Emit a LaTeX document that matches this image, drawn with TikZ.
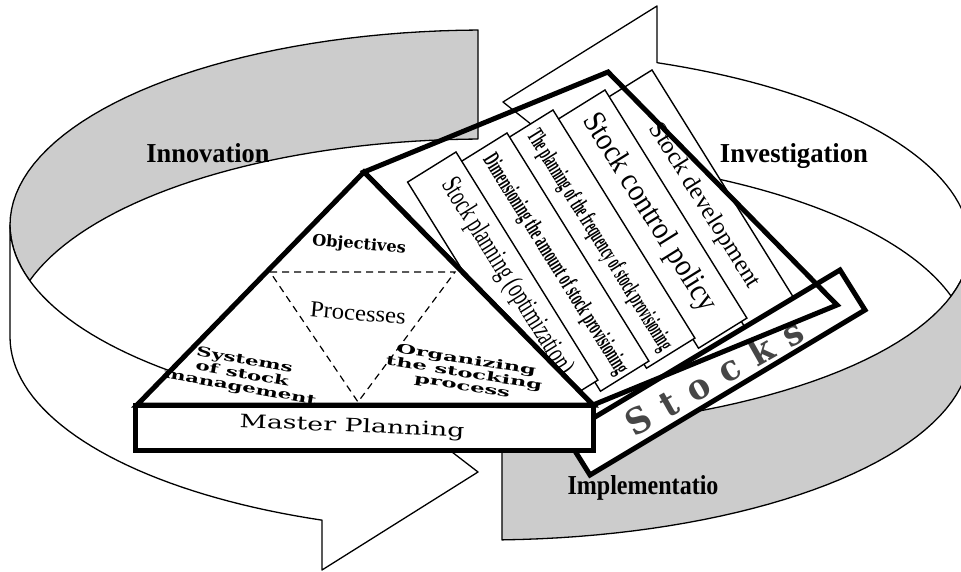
\documentclass[tikz,border=0pt]{standalone}
\usepackage{fontspec}
\setmainfont{Liberation Serif}
\newfontfamily\slab{DejaVu Serif}
\usetikzlibrary{calc}
\definecolor{ringgrey}{RGB}{204,204,204}
\definecolor{stockgrey}{RGB}{70,70,70}
\begin{document}
\begin{tikzpicture}[x=1pt,y=-1pt,
  ringline/.style={draw=black,line width=1.3pt,line join=round},
  cardbox/.style={draw=black,fill=white,line width=1.4pt,line join=miter},
  heavy/.style={draw=black,line width=5pt,line join=miter},
  ringlabel/.style={inner sep=0pt,anchor=base},
  cardtext/.style={inner sep=0pt,rotate=-58.1},
  tritext/.style={inner sep=0pt},
]
\useasboundingbox (0,0) rectangle (961,572);

% ---------- ring: left arrow (Innovation) ----------
\path[ringline,fill=ringgrey]
  plot[domain=180:269.16,samples=40,variable=\t] ({485+475*cos(\t)},{225+195*sin(\t)})
  -- plot[domain=269.16:196.56,samples=40,variable=\t] ({485+475*cos(\t)},{337+198*sin(\t)})
  -- plot[domain=163.44:180,samples=10,variable=\t] ({485+475*cos(\t)},{225+195*sin(\t)})
  -- cycle;
\path[ringline,fill=white]
  (10,225) -- plot[domain=180:110.07,samples=40,variable=\t] ({485+475*cos(\t)},{337+195*sin(\t)})
  -- (322,570) -- (478,472) -- (322,352)
  -- plot[domain=110.07:180,samples=40,variable=\t] ({485+475*cos(\t)},{225+195*sin(\t)})
  -- cycle;

% ---------- ring: right arrow (Investigation / Implementation) ----------
\path[ringline,fill=white]
  (503,102) -- (657,6)
  -- plot[domain=290.77:360,samples=40,variable=\t] ({485+485*cos(\t)},{245+195*sin(\t)})
  -- plot[domain=0:16.04,samples=10,variable=\t] ({485+485*cos(\t)},{245+185*sin(\t)})
  -- plot[domain=343.96:290.77,samples=40,variable=\t] ({485+485*cos(\t)},{350+195*sin(\t)})
  -- (657,224) -- cycle;
\path[ringline,fill=ringgrey]
  plot[domain=88:0,samples=40,variable=\t] ({485+485*cos(\t)},{245+185*sin(\t)})
  -- plot[domain=0:88,samples=40,variable=\t] ({485+485*cos(\t)},{350+190*sin(\t)})
  -- cycle;

\node[ringlabel] (innov) at (208,163) {\resizebox{123pt}{19pt}{\bfseries Innovation}};
\node[ringlabel] (invest) at (794,163) {\resizebox{148pt}{19pt}{\bfseries Investigation}};
\node[ringlabel] (implem) at (643,494) {\resizebox{151pt}{19pt}{\bfseries Implementatio}};

% ---------- cards ----------
\path[cardbox] (603.6,100.1) -- (652,70) -- (793.9,298.1) -- (745.5,328.2) -- cycle;
\node[cardtext] (t5) at (704,206) {\resizebox{190pt}{17pt}{Stock development}};
\path[cardbox] (556.6,120.1) -- (605,90) -- (746.9,318.1) -- (698.5,348.2) -- cycle;
\node[cardtext] (t4) at (649,213) {\resizebox{228pt}{22pt}{Stock control policy}};
\path[cardbox] (504.6,140.1) -- (553,110) -- (694.9,338.1) -- (646.5,368.2) -- cycle;
\node[cardtext] (t3) at (599,241) {\resizebox{255pt}{17pt}{\bfseries The planning of the frequency of stock provisioning}};
\path[cardbox] (458.6,163.1) -- (507,133) -- (648.9,361.1) -- (600.5,391.2) -- cycle;
\node[cardtext] (t2) at (555,265) {\resizebox{255pt}{17pt}{\bfseries Dimensioning the amount of stock provisioning}};
\path[cardbox] (407.6,182.1) -- (456,152) -- (597.9,380.1) -- (549.5,410.2) -- cycle;
\node[cardtext] (t1) at (507,277) {\resizebox{226pt}{20pt}{Stock planning (optimization)}};

% ---------- Stocks banner ----------
\path[heavy,fill=white] (565,435) -- (840,270) -- (865,310) -- (590,475) -- cycle;
\node[inner sep=0pt,rotate=29.5,text=stockgrey] (stk) at (714,377)
  {\resizebox{198pt}{27pt}{\slab\bfseries S\hspace{0.45em}t\hspace{0.45em}o\hspace{0.45em}c\hspace{0.45em}k\hspace{0.45em}s}};

% ---------- frame ----------
\draw[heavy] (364,172) -- (608,72) -- (837,305) -- (593,405) -- cycle;

% ---------- triangle ----------
\path[heavy,fill=white] (137,405) -- (364,172) -- (593,405) -- cycle;
\draw[line width=1.2pt,dash pattern=on 7pt off 5pt] (270,272) -- (455,272) -- (358,402) -- cycle;
\node[tritext,rotate=-5] (obj) at (359,245) {\resizebox{94pt}{12pt}{\slab\bfseries Objectives}};
\node[tritext,rotate=-5] (proc) at (358,313) {\resizebox{96pt}{15pt}{Processes}};
\node[tritext,rotate=-10] (sys) at (242,375)
  {\resizebox{155pt}{37pt}{\slab\bfseries\renewcommand\arraystretch{0.85}\begin{tabular}[b]{@{}c@{}}Systems\\of stock\\management\end{tabular}}};
\node[tritext,rotate=-9] (org) at (464,374)
  {\resizebox{158pt}{36pt}{\slab\bfseries\renewcommand\arraystretch{0.85}\begin{tabular}[b]{@{}c@{}}Organizing\\the stocking\\process\end{tabular}}};

% ---------- master planning ----------
\path[heavy,fill=white] (135,405) rectangle (593,450);
\node[tritext,rotate=-2.5] (mp) at (352,427) {\resizebox{225pt}{14pt}{\slab Master Planning}};
\end{tikzpicture}
\end{document}
